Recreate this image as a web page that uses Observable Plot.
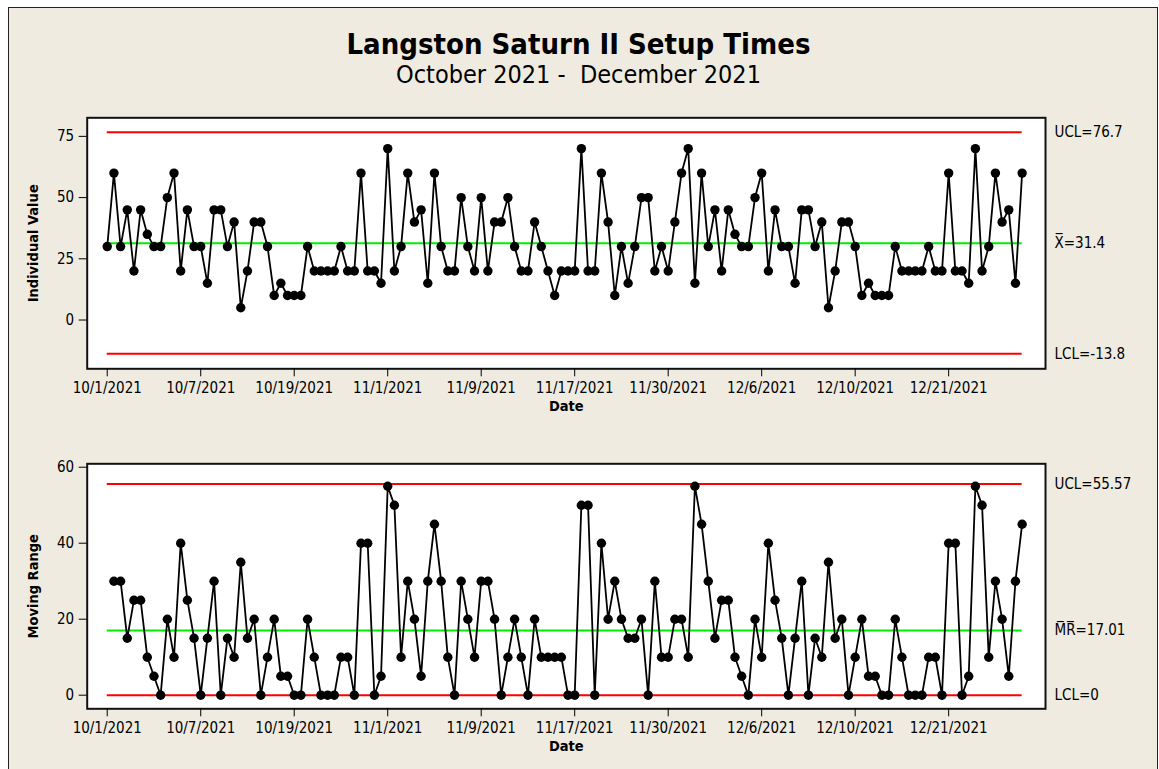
<!DOCTYPE html>
<html>
<head>
<meta charset="utf-8">
<script src="https://cdn.jsdelivr.net/npm/d3@7"></script>
<script src="https://cdn.jsdelivr.net/npm/@observablehq/plot@0.6"></script>
<style>
  body { margin: 0; background: #ffffff; }
  #page { position: relative; width: 1159px; height: 769px; overflow: hidden; background: #ffffff;
          font-family: "DejaVu Sans Condensed", "DejaVu Sans", sans-serif; font-stretch: condensed; color: #000; }
  #frame { position: absolute; left: 8px; top: 7px; width: 1150px; height: 800px; background: #EFEBE1;
           border: 1.5px solid #222; box-sizing: border-box; }
  .t { position: absolute; left: 0; width: 1157px; text-align: center; white-space: pre; }
  #title { top: 27px; font-size: 29px; line-height: 34px; font-weight: bold; }
  #subtitle { top: 61px; font-size: 25px; line-height: 28px; }
  .chart { position: absolute; left: 0; }
</style>
</head>
<body>
<div id="page">
  <div id="frame"></div>
  <div class="t" id="title">Langston Saturn II Setup Times</div>
  <div class="t" id="subtitle">October 2021 -  December 2021</div>
  <div class="chart" id="top" style="top:100px"></div>
  <div class="chart" id="bottom" style="top:440px"></div>
</div>
<script>
// Individual setup times (minutes), observation order
const values = [
  30,60,30,45,20,45,35,30,30,50,
  60,20,45,30,30,15,45,45,30,40,
  5,20,40,40,30,10,15,10,10,10,
  30,20,20,20,20,30,20,20,60,20,
  20,15,70,20,30,60,40,45,15,60,
  30,20,20,50,30,20,50,20,40,40,
  50,30,20,20,40,30,20,10,20,20,
  20,70,20,20,60,40,10,30,15,30,
  50,50,20,30,20,40,60,70,15,60,
  30,45,20,45,35,30,30,50,60,20,
  45,30,30,15,45,45,30,40,5,20,
  40,40,30,10,15,10,10,10,30,20,
  20,20,20,30,20,20,60,20,20,15,
  70,20,30,60,40,45,15,60
];
// Moving ranges, observations 2..138
const movingRanges = [
  30,30,15,25,25,10,5,0,20,10,
  40,25,15,0,15,30,0,15,10,35,
  15,20,0,10,20,5,5,0,0,20,
  10,0,0,0,10,10,0,40,40,0,
  5,55,50,10,30,20,5,30,45,30,
  10,0,30,20,10,30,30,20,0,10,
  20,10,0,20,10,10,10,10,0,0,
  50,50,0,40,20,30,20,15,15,20,
  0,30,10,10,20,20,10,55,45,30,
  15,25,25,10,5,0,20,10,40,25,
  15,0,15,30,0,15,10,35,15,20,
  0,10,20,5,5,0,0,20,10,0,
  0,0,10,10,0,40,40,0,5,55,
  50,10,30,20,5,30,45
];
const tickIndex = [0,14,28,42,56,70,84,98,112,126];
const tickLabels = ["10/1/2021","10/7/2021","10/19/2021","11/1/2021","11/9/2021","11/17/2021","11/30/2021","12/6/2021","12/10/2021","12/21/2021"];
const iLimits = [76.7, 31.4, -13.8];
const iLimitLabels = ["UCL=76.7", "X\u0305=31.4", "LCL=-13.8"];
const mrLimits = [55.57, 17.01, 0];
const mrLimitLabels = ["UCL=55.57", "M\u0305R\u0305=17.01", "LCL=0"];
const limitColors = ["#ff0000", "#00ee00", "#ff0000"];

const FONT = '"DejaVu Sans Condensed", "DejaVu Sans", sans-serif';
const last = values.length - 1;
const xDomain = [-3, 140.5];

function chart({data, limits, limitLabels, yDomain, yTicks, yLabel, marginTop, innerHeight}) {
  const lim = limits.map((v, k) => ({v, label: limitLabels[k], color: limitColors[k]}));
  return Plot.plot({
    width: 1159,
    height: 320,
    marginLeft: 86.7,
    marginRight: 114,
    marginTop: marginTop,
    marginBottom: 320 - marginTop - innerHeight,
    style: {background: "transparent", fontFamily: FONT, fontSize: "15px", color: "#000", fontStretch: "condensed"},
    x: {domain: xDomain},
    y: {domain: yDomain},
    marks: [
      Plot.frame({fill: "white", stroke: "#111", strokeWidth: 2}),
      Plot.axisY({ticks: yTicks, tickSize: 8, tickPadding: 5, label: null, fontSize: 15}),
      Plot.axisX({ticks: tickIndex, tickFormat: d => tickLabels[tickIndex.indexOf(d)], tickSize: 8, tickPadding: 6, label: null, fontSize: 15}),
      Plot.ruleY(lim, {y: "v", x1: 0, x2: last, stroke: "color", strokeWidth: 2}),
      Plot.line(data, {x: "i", y: "v", stroke: "black", strokeWidth: 1.8}),
      Plot.dot(data, {x: "i", y: "v", r: 4.7, fill: "black", stroke: "none"}),
      Plot.text(lim, {y: "v", text: "label", frameAnchor: "right", textAnchor: "start", dx: 9, fontSize: 15, fill: "black"}),
      Plot.text([yLabel], {frameAnchor: "left", text: d => d, rotate: -90, textAnchor: "middle", dx: -54, fontWeight: "bold", fontSize: 14.5}),
      Plot.text(["Date"], {frameAnchor: "bottom", text: d => d, dy: 38, fontWeight: "bold", fontSize: 14.5, lineAnchor: "middle"})
    ]
  });
}

const indiv = values.map((v, i) => ({i, v}));
const mr = movingRanges.map((v, k) => ({i: k + 1, v}));

document.getElementById("top").append(chart({
  data: indiv, limits: iLimits, limitLabels: iLimitLabels,
  yDomain: [-19.92, 82.58], yTicks: [0, 25, 50, 75], yLabel: "Individual Value", marginTop: 17.3, innerHeight: 251
}));
document.getElementById("bottom").append(chart({
  data: mr, limits: mrLimits, limitLabels: mrLimitLabels,
  yDomain: [-3.58, 60.9], yTicks: [0, 20, 40, 60], yLabel: "Moving Range", marginTop: 23.3, innerHeight: 245
}));
</script>
</body>
</html>
